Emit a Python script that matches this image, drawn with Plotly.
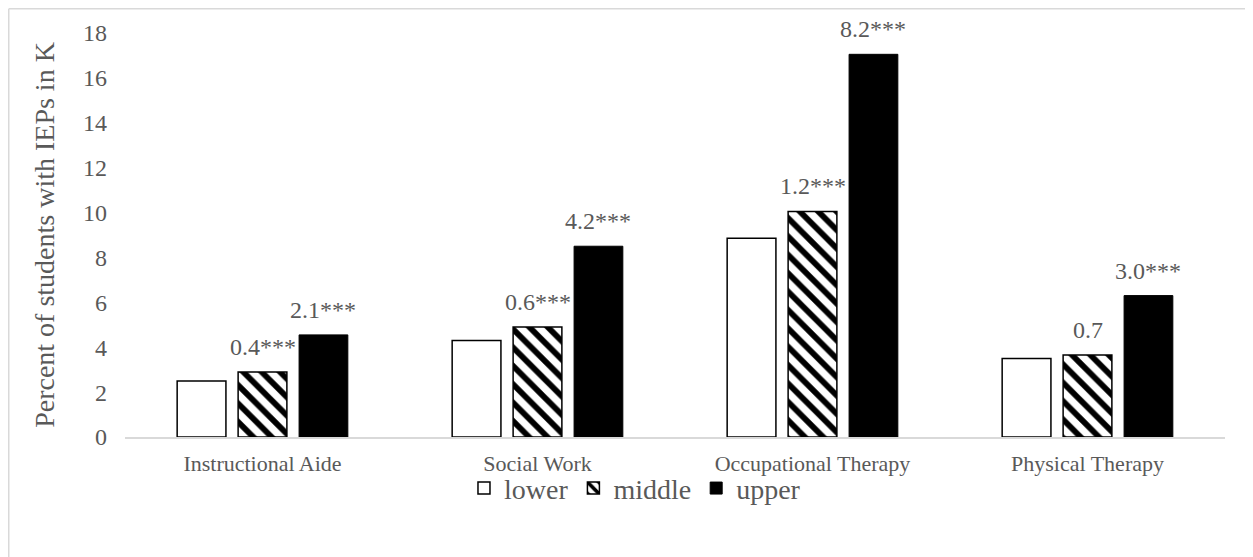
import plotly.graph_objects as go

categories = ["Instructional Aide", "Social Work", "Occupational Therapy", "Physical Therapy"]
lower = [2.5, 4.3, 8.85, 3.5]
middle = [2.9, 4.9, 10.05, 3.65]
upper = [4.55, 8.5, 17.05, 6.3]
middle_labels = ["0.4***", "0.6***", "1.2***", "0.7"]
upper_labels = ["2.1***", "4.2***", "8.2***", "3.0***"]
y_ticks = [0, 2, 4, 6, 8, 10, 12, 14, 16, 18]

FONT = "Liberation Serif, Times New Roman, serif"
GREY = "#595959"

W, H = 1245, 549
ML, MR, MT, MB = 117, 28, 25, 120
BARGAP, GROUPGAP = 0.335, 0.2

fig = go.Figure()
fig.add_trace(go.Bar(
    name="lower", x=categories, y=lower,
    marker=dict(color="white", line=dict(color="black", width=1.5)),
))
fig.add_trace(go.Bar(
    name="middle", x=categories, y=middle,
    marker=dict(color="white", line=dict(color="black", width=1.5),
                pattern=dict(shape="\\", fgcolor="black", bgcolor="white",
                             fgopacity=1, size=13, solidity=0.45)),
))
fig.add_trace(go.Bar(
    name="upper", x=categories, y=upper,
    marker=dict(color="black", line=dict(color="black", width=1)),
))

# data labels above the middle and upper bars
slot_px = (W - ML - MR) / len(categories) * (1 - BARGAP) / 3
for cat, val, lab in zip(categories, middle, middle_labels):
    fig.add_annotation(x=cat, y=val, text=lab, showarrow=False,
                       yanchor="bottom", yshift=10, xshift=0,
                       font=dict(family=FONT, size=24, color=GREY))
for cat, val, lab in zip(categories, upper, upper_labels):
    fig.add_annotation(x=cat, y=val, text=lab, showarrow=False,
                       yanchor="bottom", yshift=10, xshift=slot_px,
                       font=dict(family=FONT, size=24, color=GREY))

fig.update_layout(
    width=W, height=H,
    margin=dict(l=ML, r=MR, t=MT, b=MB, autoexpand=False),
    paper_bgcolor="white", plot_bgcolor="white",
    barmode="group", bargap=BARGAP, bargroupgap=GROUPGAP,
    font=dict(family=FONT, color=GREY, size=20),
    showlegend=True,
    legend=dict(orientation="h", xref="container", x=0.5036, xanchor="center",
                yref="container", y=0.125, yanchor="middle",
                bgcolor="rgba(0,0,0,0)",
                font=dict(family=FONT, size=28, color=GREY),
                itemwidth=30, traceorder="normal"),
    xaxis=dict(showline=True, linecolor="#d9d9d9", linewidth=1.5,
               ticks="", automargin=False, ticklabelstandoff=6,
               tickfont=dict(family=FONT, size=22, color=GREY)),
    yaxis=dict(range=[0, 18], tickvals=y_ticks, showgrid=False,
               zeroline=False, showline=False, ticks="", automargin=False,
               ticklabelstandoff=17,
               tickfont=dict(family=FONT, size=24, color=GREY),
               title=dict(text="Percent of students with IEPs in K",
                          font=dict(family=FONT, size=28, color=GREY),
                          standoff=20)),
)

pw = W - ML - MR
ph = H - MT - MB
fig.add_shape(type="line", xref="paper", yref="paper",
              x0=(0.75 - ML) / pw, x1=(0.75 - ML) / pw, y0=-(MB + 5) / ph, y1=1 + (MT - 0.75) / ph,
              line=dict(color="#d9d9d9", width=1.5))
fig.add_shape(type="line", xref="paper", yref="paper",
              x0=(0.75 - ML) / pw, x1=1 + (MR + 5) / pw, y0=1 + (MT - 0.75) / ph, y1=1 + (MT - 0.75) / ph,
              line=dict(color="#d9d9d9", width=1.5))

fig.write_html("out.html")
